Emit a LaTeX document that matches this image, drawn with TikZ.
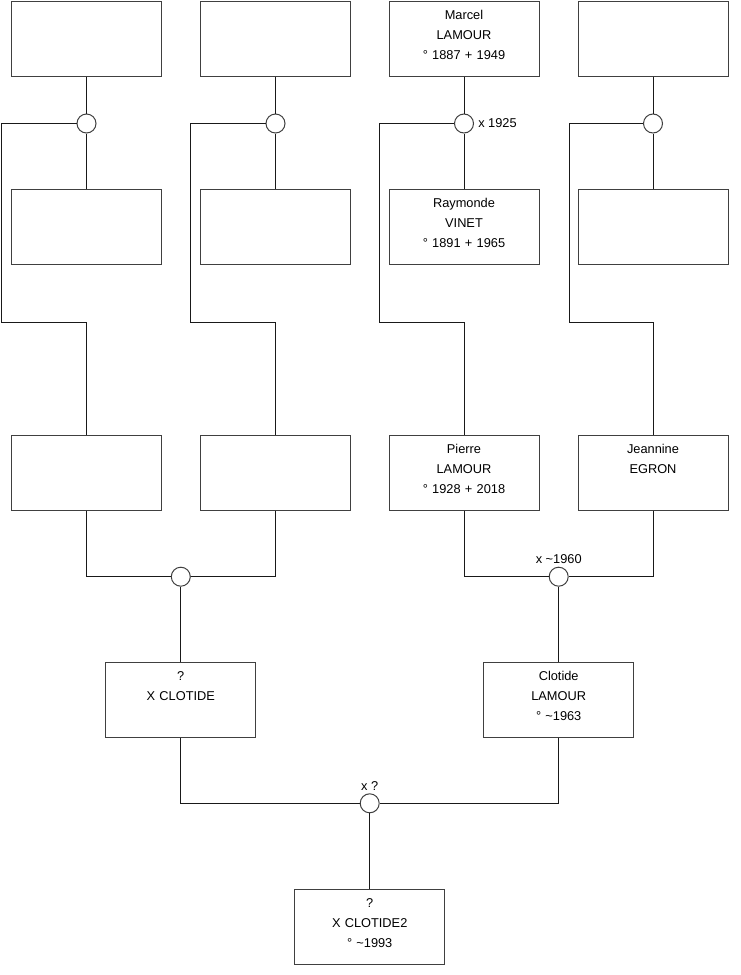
\documentclass[tikz,border=0pt]{standalone}
\usepackage{fontspec}
\setmainfont{Liberation Sans}
\usetikzlibrary{positioning}

\begin{document}
\begin{tikzpicture}[
    x=0.75pt, y=-0.75pt,
    pbox/.style={rectangle, draw=black!75, fill=white, inner sep=0pt, line width=0.75pt,
      text width=112.5pt, text height=13.8pt, text depth=42.45pt, align=center,
      font=\fontsize{9.6}{15}\selectfont},
    union/.style={circle, draw=black!75, fill=white, inner sep=0pt, minimum size=14.25pt, line width=0.75pt},
    link/.style={black!90, line width=0.75pt},
    date/.style={font=\fontsize{9.6}{11}\selectfont, inner sep=1pt},
  ]
    \useasboundingbox (0,0) rectangle (740,975);

    % grands-parents
    \node[pbox] (gp1) at (86.5,38.5) {};
    \node[pbox] (gp2) at (275.5,38.5) {};
    \node[pbox] (gp3) at (464,38.5) {Marcel\\LAMOUR\\° 1887 + 1949};
    \node[pbox] (gp4) at (653,38.5) {};
    \node[pbox] (gm1) at (86.5,227) {};
    \node[pbox] (gm2) at (275.5,227) {};
    \node[pbox] (gm3) at (464,227) {Raymonde\\VINET\\° 1891 + 1965};
    \node[pbox] (gm4) at (653,227) {};

    \node[union] (u1) at (86.5,123.5) {};
    \node[union] (u2) at (275.5,123.5) {};
    \node[union] (u3) at (464,123.5) {};
    \node[union] (u4) at (653,123.5) {};
    \node[date, right=2pt of u3] (d3) {x 1925};

    % parents
    \node[pbox] (p1) at (86.5,472.5) {};
    \node[pbox] (p2) at (275.5,472.5) {};
    \node[pbox] (p3) at (464,472.5) {Pierre\\LAMOUR\\° 1928 + 2018};
    \node[pbox] (p4) at (653,472.5) {Jeannine\\EGRON};

    \node[union] (v1) at (180.8,576.7) {};
    \node[union] (v2) at (558.7,576.7) {};
    \node[date, above=1pt of v2] (e2) {x \textasciitilde1960};

    \node[pbox] (c1) at (180.8,699.5) {?\\X CLOTIDE};
    \node[pbox] (c2) at (558.7,699.5) {Clotide\\LAMOUR\\° \textasciitilde1963};

    \node[union] (w) at (369.7,803.3) {};
    \node[date, above=1pt of w] (ew) {x ?};

    \node[pbox] (ch) at (369.7,926.5) {?\\X CLOTIDE2\\° \textasciitilde1993};

    \foreach \i/\xl in {1/1.7, 2/190.3, 3/379.3, 4/569} {
      \coordinate (k\i) at (\xl,322);
      \draw[link] (gp\i.south) -- (u\i.north);
      \draw[link] (u\i.south) -- (gm\i.north);
      \draw[link] (u\i.west) -| (k\i) -| (p\i.north);
    }

    \draw[link] (p1.south) |- (v1.west);
    \draw[link] (p2.south) |- (v1.east);
    \draw[link] (p3.south) |- (v2.west);
    \draw[link] (p4.south) |- (v2.east);
    \draw[link] (v1.south) -- (c1.north);
    \draw[link] (v2.south) -- (c2.north);

    \draw[link] (c1.south) |- (w.west);
    \draw[link] (c2.south) |- (w.east);
    \draw[link] (w.south) -- (ch.north);
  \end{tikzpicture}
\end{document}
